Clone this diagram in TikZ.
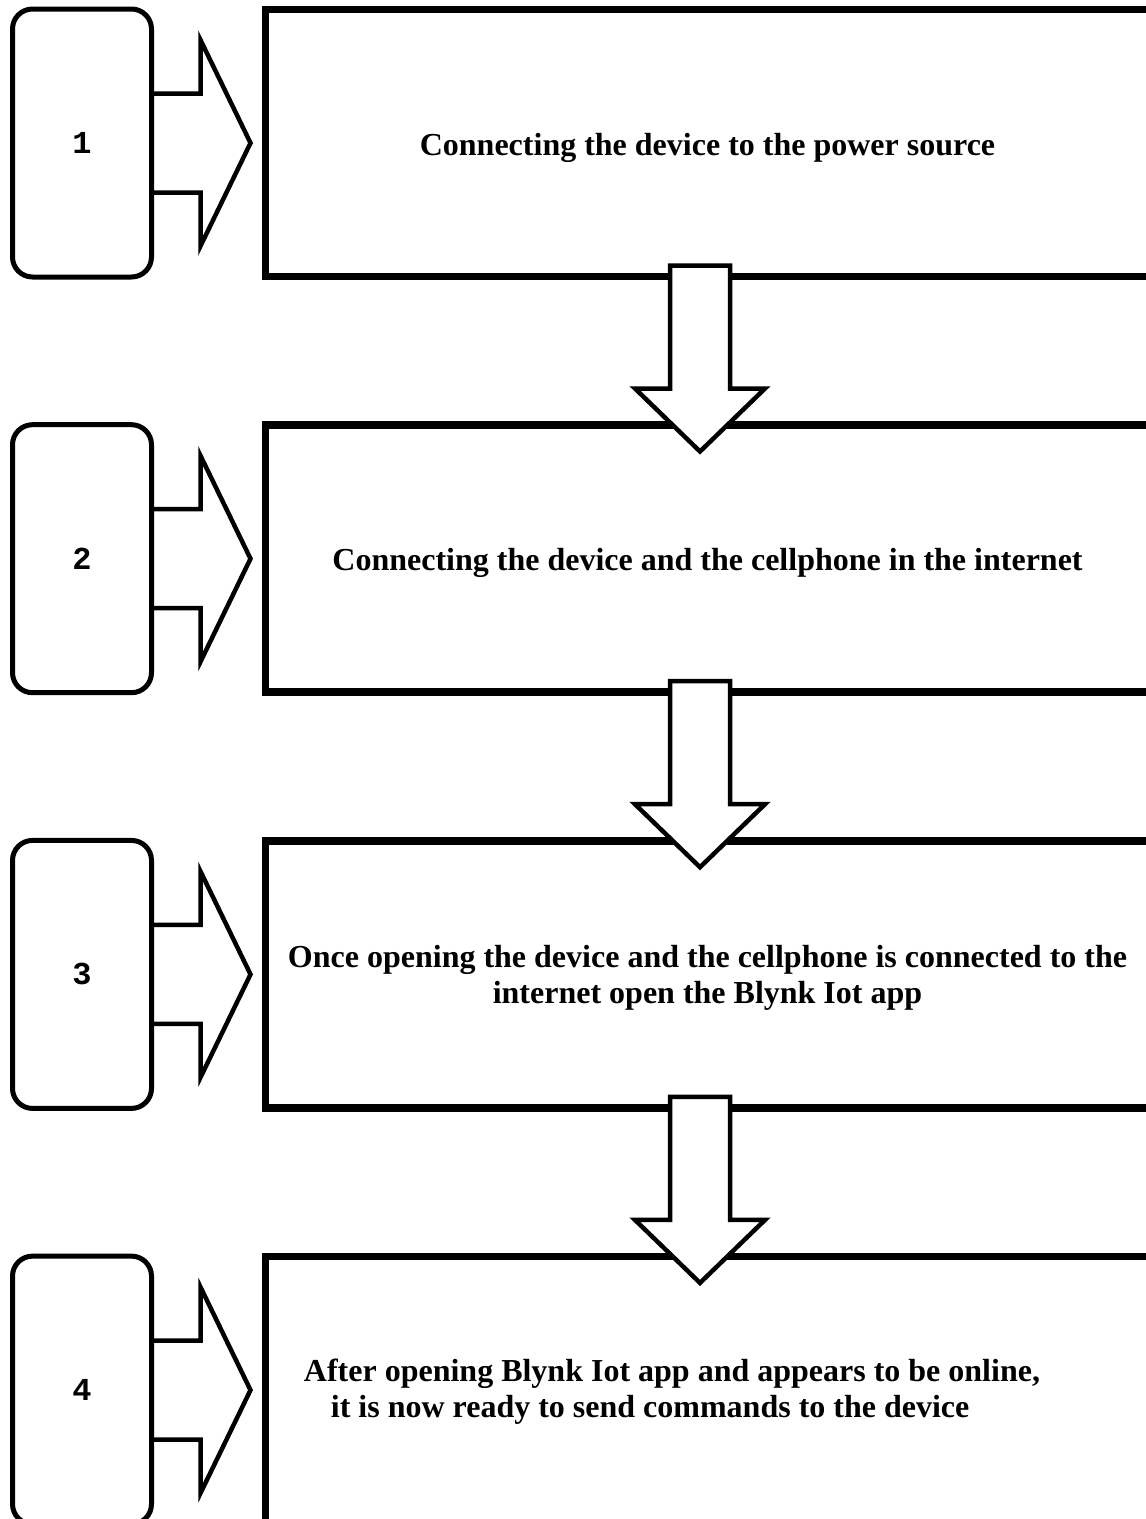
\documentclass[tikz,border=0pt]{standalone}
\usepackage{fontspec}
\setmainfont{Liberation Serif}
\setmonofont{Liberation Mono}
\usepackage{tikz}
\usetikzlibrary{positioning,calc}
\tikzset{numbox/.style={rectangle, rounded corners=20pt, draw=black, line width=5pt, fill=white, outer sep=0pt, minimum width=139pt, minimum height=268pt, font=\fontsize{32}{36}\selectfont\ttfamily\bfseries}, stepbox/.style={rectangle, draw=black, line width=7.5pt, outer sep=0pt, minimum width=884pt, minimum height=267pt}, steptext/.style={inner sep=0pt, align=center, font=\fontsize{32}{35.5}\selectfont\bfseries}, rarrow/.style={draw=black, line width=4.5pt, line join=miter}, darrow/.style={draw=black, fill=white, line width=4.5pt, line join=miter}}

\begin{document}
\begin{tikzpicture}[x=1pt,y=-1pt,node distance=147.7pt and 114pt]
\useasboundingbox (0,0) rectangle (1146,1519);
\clip (0,0) rectangle (1146,1519);
% side arrows go under the number boxes
\coordinate (c1) at (151.5,143);
\coordinate (c2) at (151.5,558.7);
\coordinate (c3) at (151.5,974.4);
\coordinate (c4) at (151.5,1390.1);
\draw[rarrow] ($(c1)+(0,-49.5)$) -- ++(49,0) -- ++(0,-53.5) -- ++(50,103) -- ++(-50,103) -- ++(0,-53.5) -- ++(-49,0);
\draw[rarrow] ($(c2)+(0,-49.5)$) -- ++(49,0) -- ++(0,-53.5) -- ++(50,103) -- ++(-50,103) -- ++(0,-53.5) -- ++(-49,0);
\draw[rarrow] ($(c3)+(0,-49.5)$) -- ++(49,0) -- ++(0,-53.5) -- ++(50,103) -- ++(-50,103) -- ++(0,-53.5) -- ++(-49,0);
\draw[rarrow] ($(c4)+(0,-49.5)$) -- ++(49,0) -- ++(0,-53.5) -- ++(50,103) -- ++(-50,103) -- ++(0,-53.5) -- ++(-49,0);
\node[numbox] (num1) at (82,143) {1};
\node[numbox, below=of num1] (num2) {2};
\node[numbox, below=of num2] (num3) {3};
\node[numbox, below=of num3] (num4) {4};
\node[stepbox, right=of num1] (step1) {};
\node[stepbox, right=of num2] (step2) {};
\node[stepbox, right=of num3] (step3) {};
\node[stepbox, right=of num4] (step4) {};
\node[steptext] (text1) at ($(step1.center)+(0,4.5)$) {Connecting the device to the power source};
\node[steptext] (text2) at ($(step2.center)+(0,4.5)$) {Connecting the device and the cellphone in the internet};
\node[steptext] (text3) at ($(step3.center)+(0,3.5)$) {Once opening the device and the cellphone is connected to the\\internet open the Blynk Iot app};
\node[steptext, align=left] (text4) at ($(step4.center)+(-35.5,1.5)$) {After opening Blynk Iot app and appears to be online,\\\hspace*{27pt}it is now ready to send commands to the device};
% down arrows between the steps
\draw[darrow] ($(step1.south)+(-37.5,-11)$) -- ++(0,123) -- ++(-35,0) -- ++(65,63) -- ++(65,-63) -- ++(-35,0) -- ++(0,-123) -- cycle;
\draw[darrow] ($(step2.south)+(-37.5,-11)$) -- ++(0,123) -- ++(-35,0) -- ++(65,63) -- ++(65,-63) -- ++(-35,0) -- ++(0,-123) -- cycle;
\draw[darrow] ($(step3.south)+(-37.5,-11)$) -- ++(0,123) -- ++(-35,0) -- ++(65,63) -- ++(65,-63) -- ++(-35,0) -- ++(0,-123) -- cycle;
\end{tikzpicture}
\end{document}
